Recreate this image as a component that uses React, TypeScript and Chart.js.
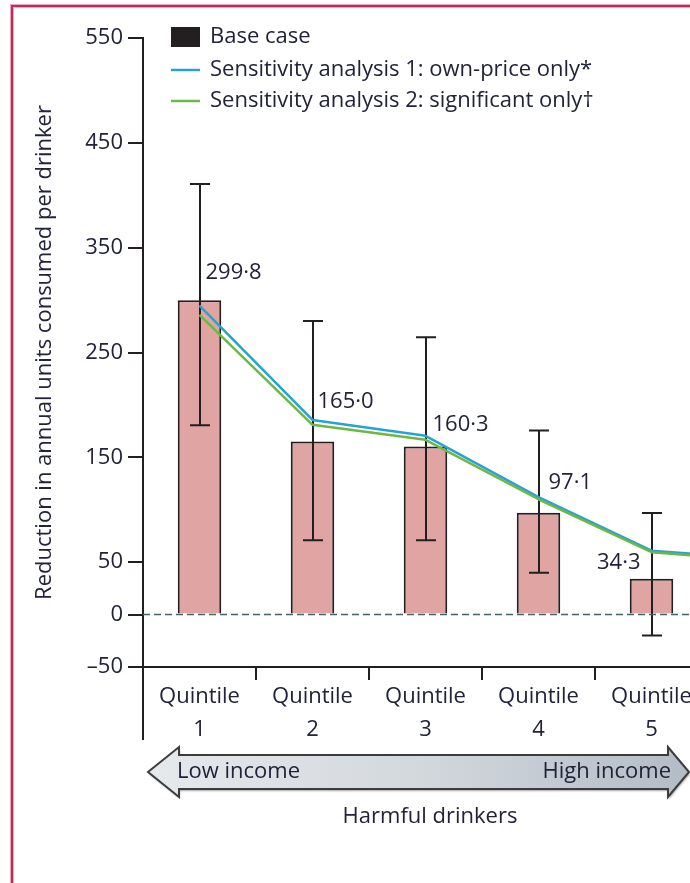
import { useEffect, useRef } from "react";
import { Chart, registerables } from "chart.js";

Chart.register(...registerables);

// Income quintiles (the sixth slot only carries the lines on past quintile 5)
const quintiles = ["1", "2", "3", "4", "5", ""];
const baseCase = [299.8, 165.0, 160.3, 97.1, 34.3, null];
const ciLower = [180.6, 71, 71, 40, -20, null];
const ciUpper = [410.7, 280, 264.5, 175.5, 96.8, null];
const sensitivity1 = [294.7, 185.7, 170.5, 112, 61, 53];
const sensitivity2 = [285.8, 181, 166.7, 110, 59.5, 51];
const yTicks = [550, 450, 350, 250, 150, 50, 0, -50];

const seriesNames = [
  "Base case",
  "Sensitivity analysis 1: own-price only*",
  "Sensitivity analysis 2: significant only†",
];
const yTitle = "Reduction in annual units consumed per drinker";
const groupTitle = "Harmful drinkers";
const lowLabel = "Low income";
const highLabel = "High income";

// value label placement relative to the top centre of each bar: [dx, dy, align]
const labelPlacement: [number, number, CanvasTextAlign][] = [
  [6, -28, "left"],
  [5, -40, "left"],
  [7, -22, "left"],
  [10, -30, "left"],
  [-11, -16, "right"],
];

const FONT = '"Open Sans", "Noto Sans", sans-serif';
const SIZE = 22;
const TEXT = "#22223a";
const INK = "#231f20";
const BAR_FILL = "#e0a4a2";
const BLUE = "#27a3d3";
const GREEN = "#6db844";
const ZERO_LINE = "#44626a";

const fmt = (v: number) => v.toFixed(1).replace(".", "·");

const decorations = {
  id: "decorations",
  afterDatasetDraw(chart: any, args: any) {
    if (args.index !== 0) return;
    const { ctx } = chart;
    const y = chart.scales.y;
    const meta = chart.getDatasetMeta(0);
    ctx.save();
    ctx.strokeStyle = INK;
    ctx.lineWidth = 2;
    meta.data.forEach((el: any, i: number) => {
      const lo = ciLower[i];
      const hi = ciUpper[i];
      if (lo == null || hi == null) return;
      const x = Math.round(el.x);
      const yl = y.getPixelForValue(lo);
      const yh = y.getPixelForValue(hi);
      ctx.beginPath();
      ctx.moveTo(x, yl);
      ctx.lineTo(x, yh);
      ctx.moveTo(x - 10, yh);
      ctx.lineTo(x + 10, yh);
      ctx.moveTo(x - 10, yl);
      ctx.lineTo(x + 10, yl);
      ctx.stroke();
    });
    ctx.restore();
  },
  afterDatasetsDraw(chart: any) {
    const { ctx, chartArea } = chart;
    const y = chart.scales.y;
    const y0 = y.getPixelForValue(0);
    ctx.save();
    // dashed zero reference line
    ctx.strokeStyle = ZERO_LINE;
    ctx.lineWidth = 1.5;
    ctx.setLineDash([7, 4]);
    ctx.beginPath();
    ctx.moveTo(chartArea.left, y0);
    ctx.lineTo(chartArea.right, y0);
    ctx.stroke();
    ctx.setLineDash([]);

    // value labels on the base-case bars
    const meta = chart.getDatasetMeta(0);
    ctx.fillStyle = TEXT;
    ctx.font = `${SIZE}px ${FONT}`;
    ctx.textBaseline = "middle";
    meta.data.forEach((el: any, i: number) => {
      const v = baseCase[i];
      if (v == null || !labelPlacement[i]) return;
      const [dx, dy, align] = labelPlacement[i];
      ctx.textAlign = align;
      ctx.fillText(fmt(v), el.x + dx, el.y + dy);
    });
    ctx.restore();
  },
  afterDraw(chart: any) {
    const { ctx, chartArea } = chart;
    ctx.save();
    // y axis carried down past the category labels
    ctx.strokeStyle = INK;
    ctx.lineWidth = 2;
    ctx.beginPath();
    ctx.moveTo(chartArea.left, chartArea.bottom);
    ctx.lineTo(chartArea.left, 740);
    ctx.stroke();

    // legend
    const lx = chartArea.left + 28;
    const rows = [37, 70, 101];
    ctx.fillStyle = INK;
    ctx.fillRect(lx, rows[0] - 10, 29, 20);
    ctx.lineWidth = 2.5;
    ctx.strokeStyle = BLUE;
    ctx.beginPath();
    ctx.moveTo(lx, rows[1]);
    ctx.lineTo(lx + 29, rows[1]);
    ctx.stroke();
    ctx.strokeStyle = GREEN;
    ctx.beginPath();
    ctx.moveTo(lx, rows[2]);
    ctx.lineTo(lx + 29, rows[2]);
    ctx.stroke();
    ctx.fillStyle = TEXT;
    ctx.font = `${SIZE}px ${FONT}`;
    ctx.textAlign = "left";
    ctx.textBaseline = "middle";
    seriesNames.forEach((name, i) => ctx.fillText(name, lx + 39, rows[i]));

    // income gradient arrow
    const left = 148;
    const right = 689;
    const mid = 772;
    const headW = 31;
    const headH = 25;
    const shaftH = 17;
    const path = () => {
      ctx.beginPath();
      ctx.moveTo(left, mid);
      ctx.lineTo(left + headW, mid - headH);
      ctx.lineTo(left + headW, mid - shaftH);
      ctx.lineTo(right - headW + 10, mid - shaftH);
      ctx.lineTo(right - headW + 10, mid - headH);
      ctx.lineTo(right, mid);
      ctx.lineTo(right - headW + 10, mid + headH);
      ctx.lineTo(right - headW + 10, mid + shaftH);
      ctx.lineTo(left + headW, mid + shaftH);
      ctx.lineTo(left + headW, mid + headH);
      ctx.closePath();
    };
    const grad = ctx.createLinearGradient(left, 0, right, 0);
    grad.addColorStop(0, "#e6e9ec");
    grad.addColorStop(0.5, "#d3d8dd");
    grad.addColorStop(1, "#b3bcc5");
    ctx.save();
    ctx.shadowColor = "rgba(0,0,0,0.35)";
    ctx.shadowOffsetX = 1;
    ctx.shadowOffsetY = 2;
    ctx.shadowBlur = 2;
    path();
    ctx.fillStyle = grad;
    ctx.fill();
    ctx.restore();
    path();
    ctx.strokeStyle = "#3c3c3c";
    ctx.lineWidth = 2;
    ctx.lineJoin = "miter";
    ctx.stroke();

    ctx.fillStyle = TEXT;
    ctx.font = `${SIZE}px ${FONT}`;
    ctx.textBaseline = "middle";
    ctx.textAlign = "left";
    ctx.fillText(lowLabel, 177, mid);
    ctx.textAlign = "right";
    ctx.fillText(highLabel, 671, mid);
    ctx.textAlign = "center";
    ctx.fillText(groupTitle, 430, 817);
    ctx.restore();
  },
};

export default function App() {
  const canvasRef = useRef<HTMLCanvasElement | null>(null);

  useEffect(() => {
    const canvas = canvasRef.current;
    if (!canvas) return;
    const chart = new Chart(canvas, {
      type: "bar",
      data: {
        labels: quintiles.map((q) => (q ? ["Quintile", q] : ["", ""])),
        datasets: [
          {
            type: "bar",
            label: seriesNames[0],
            data: baseCase,
            backgroundColor: BAR_FILL,
            borderColor: INK,
            borderWidth: 2,
            borderSkipped: "start",
            categoryPercentage: 1,
            barPercentage: 0.385,
            order: 3,
          },
          {
            type: "line",
            label: seriesNames[1],
            data: sensitivity1,
            borderColor: BLUE,
            borderWidth: 2.5,
            pointRadius: 0,
            tension: 0,
            borderJoinStyle: "round",
            order: 2,
          },
          {
            type: "line",
            label: seriesNames[2],
            data: sensitivity2,
            borderColor: GREEN,
            borderWidth: 2.5,
            pointRadius: 0,
            tension: 0,
            borderJoinStyle: "round",
            order: 1,
          },
        ] as any,
      },
      options: {
        responsive: false,
        animation: false,
        devicePixelRatio: 1,
        layout: { padding: { left: 0, top: 38, right: 19, bottom: 116 } },
        plugins: {
          legend: { display: false },
          tooltip: { enabled: false },
        },
        scales: {
          x: {
            type: "category",
            offset: true,
            grid: {
              display: true,
              offset: true,
              drawOnChartArea: false,
              drawTicks: true,
              tickLength: 13,
              color: INK,
              lineWidth: 2,
            },
            border: { display: true, color: INK, width: 2 },
            ticks: {
              color: TEXT,
              font: { family: FONT, size: SIZE, lineHeight: 1.5 },
              padding: 0,
              maxRotation: 0,
              autoSkip: false,
            },
            afterFit: (s: any) => {
              s.height = 100;
            },
          },
          y: {
            min: -50,
            max: 550,
            afterBuildTicks: (s: any) => {
              s.ticks = yTicks.map((v) => ({ value: v }));
            },
            grid: {
              display: true,
              drawOnChartArea: false,
              drawTicks: true,
              tickLength: 15,
              color: INK,
              lineWidth: 2,
            },
            border: { display: true, color: INK, width: 2 },
            ticks: {
              color: TEXT,
              font: { family: FONT, size: SIZE },
              padding: 5,
              callback: (v: any) => (Number(v) < 0 ? "–" + Math.abs(Number(v)) : String(v)),
            },
            title: {
              display: true,
              text: yTitle,
              color: TEXT,
              font: { family: FONT, size: SIZE },
              padding: { top: 32, bottom: 0 },
            },
            afterFit: (s: any) => {
              s.width = 143;
            },
          },
        },
      } as any,
      plugins: [decorations],
    });
    return () => chart.destroy();
  }, []);

  return (
    <div
      style={{
        position: "fixed",
        left: 0,
        top: 0,
        width: 690,
        height: 883,
        overflow: "hidden",
        background: "#ffffff",
      }}
    >
      <canvas
        ref={canvasRef}
        width={840}
        height={883}
        style={{ position: "absolute", left: 0, top: 0, width: 840, height: 883 }}
      />
      <div
        style={{
          position: "absolute",
          left: 11,
          top: 5,
          width: 900,
          height: 1000,
          borderLeft: "2px solid #bf2e5b",
          borderTop: "2px solid #bf2e5b",
          boxShadow: "-1px -1px 0 #eaa9bd, inset 1px 1px 0 #eaa9bd",
          pointerEvents: "none",
        }}
      />
    </div>
  );
}
